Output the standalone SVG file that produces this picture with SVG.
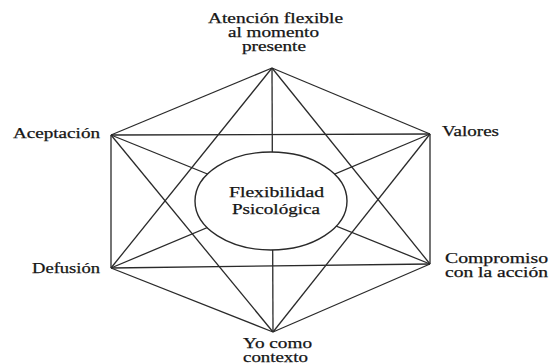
<svg xmlns="http://www.w3.org/2000/svg" width="550" height="364" viewBox="0 0 550 364">
<style>
.l{stroke:#2a2a2a;stroke-width:1.3;fill:none}
.t{font-family:"Liberation Serif","Times New Roman",serif;font-size:14px;fill:#151515;stroke:#151515;stroke-width:0.25}
.e{fill:#fff;stroke:#2a2a2a;stroke-width:1.4}
</style>
<rect width="550" height="364" fill="#fff"/>
<g id="connectors">
<line class="l" x1="272" y1="68" x2="111" y2="135"/>
<line class="l" x1="272" y1="68" x2="430" y2="134"/>
<line class="l" x1="272" y1="68" x2="111" y2="268"/>
<line class="l" x1="272" y1="68" x2="430" y2="264"/>
<line class="l" x1="272" y1="68" x2="273" y2="332"/>
<line class="l" x1="111" y1="135" x2="430" y2="134"/>
<line class="l" x1="111" y1="135" x2="111" y2="268"/>
<line class="l" x1="111" y1="135" x2="430" y2="264"/>
<line class="l" x1="111" y1="135" x2="273" y2="332"/>
<line class="l" x1="430" y1="134" x2="111" y2="268"/>
<line class="l" x1="430" y1="134" x2="430" y2="264"/>
<line class="l" x1="430" y1="134" x2="273" y2="332"/>
<line class="l" x1="111" y1="268" x2="430" y2="264"/>
<line class="l" x1="111" y1="268" x2="273" y2="332"/>
<line class="l" x1="430" y1="264" x2="273" y2="332"/>
</g>
<g id="center">
<ellipse class="e" cx="271" cy="201" rx="76" ry="49"/>
<text class="t" x="229" y="197" textLength="95" lengthAdjust="spacingAndGlyphs">Flexibilidad</text>
<text class="t" x="232" y="214" textLength="88" lengthAdjust="spacingAndGlyphs">Psicológica</text>
</g>
<g id="atencion">
<text class="t" x="208" y="23" textLength="135" lengthAdjust="spacingAndGlyphs">Atención flexible</text>
<text class="t" x="228" y="37" textLength="91" lengthAdjust="spacingAndGlyphs">al momento</text>
<text class="t" x="242" y="51" textLength="64" lengthAdjust="spacingAndGlyphs">presente</text>
</g>
<g id="aceptacion">
<text class="t" x="13" y="138" textLength="87" lengthAdjust="spacingAndGlyphs">Aceptación</text>
</g>
<g id="valores">
<text class="t" x="442" y="136" textLength="57" lengthAdjust="spacingAndGlyphs">Valores</text>
</g>
<g id="defusion">
<text class="t" x="32" y="273" textLength="68" lengthAdjust="spacingAndGlyphs">Defusión</text>
</g>
<g id="compromiso">
<text class="t" x="445" y="263" textLength="103" lengthAdjust="spacingAndGlyphs">Compromiso</text>
<text class="t" x="445" y="277" textLength="103" lengthAdjust="spacingAndGlyphs">con la acción</text>
</g>
<g id="yo">
<text class="t" x="243" y="348" textLength="69" lengthAdjust="spacingAndGlyphs">Yo como</text>
<text class="t" x="243" y="362" textLength="65" lengthAdjust="spacingAndGlyphs">contexto</text>
</g>
</svg>
